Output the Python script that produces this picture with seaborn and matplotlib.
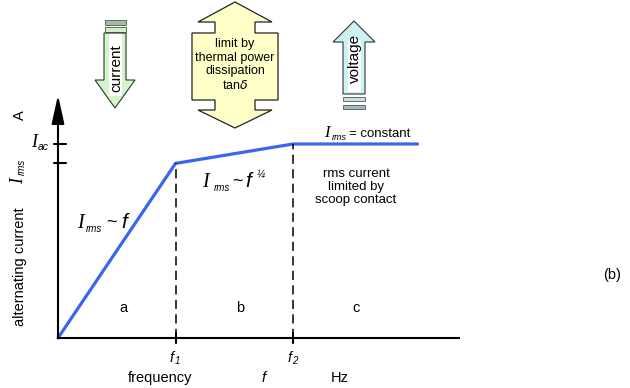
import matplotlib
matplotlib.use("Agg")
import matplotlib.pyplot as plt
import matplotlib.transforms as mtransforms
from matplotlib.patches import Polygon, Rectangle
import seaborn as sns
import pandas as pd

# Piecewise rms-current characteristic versus frequency (normalised units)
freq = [0.0, 1.0, 2.0, 3.06]          # f1 = 1, f2 = 2
current = [0.0, 0.90, 1.0, 1.0]       # I_ac = 1
f_marks = [1.0, 2.0]
f_mark_subs = ["1", "2"]
i_marks = [1.0, 0.90]
region_labels = ["a", "b", "c"]
region_centres = [0.56, 1.55, 2.54]

sns.set_theme(style="white")
plt.rcParams["font.family"] = ["Liberation Sans", "DejaVu Sans"]

W, H = 630, 388
fig = plt.figure(figsize=(W / 100, H / 100), dpi=100)
ax = fig.add_axes([0, 0, 1, 1])
ax.set_xlim(-58 / 117.5, 572 / 117.5)
ax.set_ylim(-50 / 194, 338 / 194)
ax.axis("off")

# pixel-space transform for decorations and labels (origin at top-left)
px = mtransforms.Affine2D().scale(1 / W, -1 / H).translate(0, 1) + fig.transFigure

blue = "#3a66ee"
df = pd.DataFrame({"f": freq, "I": current})
sns.lineplot(data=df, x="f", y="I", ax=ax, color=blue, lw=2.3, sort=False)

# axes
ax.plot([0, 3.42], [0, 0], color="black", lw=1.5, solid_capstyle="butt")
ax.annotate("", xy=(0, 1.2526), xytext=(0, 0),
            arrowprops=dict(arrowstyle="-|>,head_length=1.45,head_width=0.32",
                            lw=1.5, color="black", shrinkA=0, shrinkB=0))

# region boundaries and tick marks
for fm, im in zip(f_marks, [current[1], current[2]]):
    ax.plot([fm, fm], [0, im], color="black", lw=1.1, ls=(0, (6, 3.5)))
    ax.plot([fm, fm], [-0.026, 0.026], color="black", lw=1.5)
for im in i_marks:
    ax.plot([-0.034, 0.068], [im, im], color="black", lw=1.5)

txt = dict(transform=px, ha="center", va="center", color="black")
SERIF_IT = dict(family="Liberation Serif", style="italic")
SANS_IT = dict(family="Liberation Sans", style="italic")


def put(x, y, s, size, rot=0, **kw):
    ax.text(x, y, s, fontsize=size, transform=px, ha="left", va="baseline",
            rotation=rot, rotation_mode="anchor", color="black", **kw)


# frequency markers f1, f2
for fm, sub in zip(f_marks, f_mark_subs):
    xp = 58 + 117.5 * fm
    put(xp - 6, 362, "f", 10.5, **SANS_IT)
    put(xp - 1, 364.5, sub, 7, **SANS_IT)
for xc, lab in zip(region_centres, region_labels):
    ax.text(58 + 117.5 * xc, 308, lab, fontsize=10.5, **txt)

# axis titles
ax.text(160, 378, "frequency", fontsize=10.5, **txt)
put(262, 382, "f", 10.5, **SANS_IT)
ax.text(340, 378, "Hz", fontsize=10.5, **txt)
ax.text(20, 267, "alternating current", fontsize=10.5, rotation=90, **txt)
put(23, 184, "I", 13, rot=90, **SERIF_IT)
put(25, 175, "rms", 7, rot=90, **SANS_IT)
ax.text(20, 115, "A", fontsize=10.5, rotation=90, **txt)
put(31, 147, "I", 13, **SERIF_IT)
put(38, 149.5, "ac", 7.5, **SANS_IT)

# curve annotations
put(77, 228, "I", 14.5, **SERIF_IT)
put(86, 232, "rms", 7, **SANS_IT)
put(106, 227, "~", 13)
put(121, 228, "f", 15, **SANS_IT)

put(202, 187, "I", 14.5, **SERIF_IT)
put(214, 191, "rms", 7, **SANS_IT)
put(232, 186, "~", 13)
put(245, 187, "f", 15, **SANS_IT)
put(257, 178, "¼", 7, **SANS_IT)

put(324, 137, "I", 12, **SERIF_IT)
put(332, 139.5, "rms", 6.5, **SANS_IT)
put(349, 137, "= constant", 9.5)
ax.text(356, 187, "rms current\nlimited by\nscoop contact", fontsize=9.5,
        linespacing=1.15, **txt)
ax.text(612, 275, "(b)", fontsize=10.5, **txt)


def poly(points, fc, ec="#333333", lw=0.8):
    ax.add_patch(Polygon(points, closed=True, transform=px, fc=fc, ec=ec,
                         lw=lw, clip_on=False))


def rect(x0, y0, x1, y1, fc, ec="#555555", lw=0.6):
    ax.add_patch(Rectangle((x0, y0), x1 - x0, y1 - y0, transform=px, fc=fc,
                           ec=ec, lw=lw, clip_on=False))


# "current" arrow (down)
rect(105, 20, 126, 24.5, "#9dbf9d")
rect(105, 27, 126, 31.5, "#cfeec8")
poly([(104, 33), (126, 33), (126, 80), (135, 80), (115, 108), (95, 80), (104, 80)],
     "#d2f5ca")
rect(108.5, 34, 121.5, 96, "white", ec="none", lw=0)
ax.text(116, 68, "current", fontsize=11, rotation=90, **txt)

# "voltage" arrow (up)
poly([(354, 21), (375, 42), (365, 42), (365, 94), (343, 94), (343, 42), (333, 42)],
     "#cdf4f4")
rect(347.5, 40, 360.5, 92, "white", ec="none", lw=0)
rect(343, 96.5, 365, 101, "#c5e5e5")
rect(343, 104.5, 365, 109, "#9dbdbd")
ax.text(355, 58, "voltage", fontsize=11, rotation=90, **txt)

# thermal-limit double arrow
poly([(235, 2), (272, 22), (255, 22), (255, 33), (278, 33), (278, 100), (255, 100),
      (255, 110), (272, 110), (235, 128), (198, 110), (215, 110), (215, 100),
      (192, 100), (192, 33), (215, 33), (215, 22), (198, 22)],
     "#ffffc8", ec="#222222", lw=0.9)
ax.text(235, 65, "limit by\nthermal power\ndissipation\ntan$\\delta$",
        fontsize=9, linespacing=1.2, **txt)

fig.savefig("out.png", dpi=100)
